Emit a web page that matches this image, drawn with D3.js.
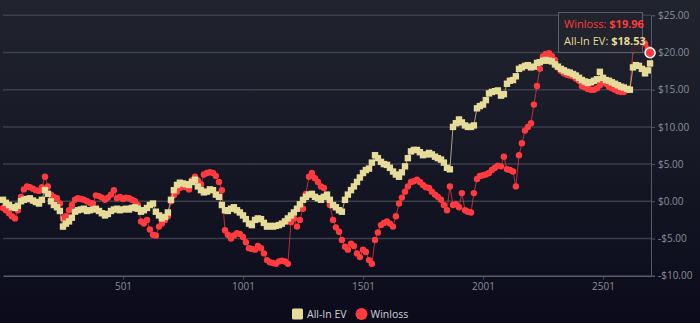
<!DOCTYPE html>
<html>
<head>
<meta charset="utf-8">
<script src="https://cdn.jsdelivr.net/npm/d3@7"></script>
<style>
  html, body { margin: 0; padding: 0; background: #0c0c1c; }
  svg { display: block; }
  text { font-family: "Open Sans", "Noto Sans", sans-serif; }
</style>
</head>
<body>
<svg id="chart" width="700" height="323"></svg>
<script>
// Hand numbers sampled along the session
const hands = [
  1, 13, 26, 38, 51, 63, 76, 88, 101, 113,
  126, 138, 151, 163, 176, 188, 201, 213, 226, 238,
  251, 263, 276, 288, 301, 313, 326, 338, 351, 363,
  376, 388, 401, 413, 426, 438, 451, 463, 476, 488,
  501, 513, 526, 538, 551, 563, 576, 588, 601, 613,
  626, 638, 651, 663, 676, 688, 701, 713, 726, 738,
  751, 763, 776, 788, 801, 813, 826, 838, 851, 863,
  876, 888, 901, 913, 926, 938, 951, 963, 976, 988,
  1001, 1013, 1026, 1038, 1051, 1063, 1076, 1088, 1101, 1113,
  1126, 1138, 1151, 1163, 1176, 1188, 1201, 1213, 1226, 1238,
  1251, 1263, 1276, 1288, 1301, 1313, 1326, 1338, 1351, 1363,
  1376, 1388, 1401, 1413, 1426, 1438, 1451, 1463, 1476, 1488,
  1501, 1513, 1526, 1538, 1551, 1563, 1576, 1588, 1601, 1613,
  1626, 1638, 1651, 1663, 1676, 1688, 1701, 1713, 1726, 1738,
  1751, 1763, 1776, 1788, 1801, 1813, 1826, 1838, 1851, 1863,
  1876, 1888, 1901, 1913, 1926, 1938, 1951, 1963, 1976, 1988,
  2001, 2013, 2026, 2038, 2051, 2063, 2076, 2088, 2101, 2113,
  2126, 2138, 2151, 2163, 2176, 2188, 2201, 2213, 2226, 2238,
  2251, 2263, 2276, 2288, 2301, 2313, 2326, 2338, 2351, 2363,
  2376, 2388, 2401, 2413, 2426, 2438, 2451, 2463, 2476, 2488,
  2501, 2513, 2526, 2538, 2551, 2563, 2576, 2588, 2601, 2613,
  2626, 2638, 2651, 2663, 2676, 2688, 2697
];

// Cumulative all-in expected value ($)
const allInEV = [
  0.2, -0.2, -0.5, -0.8, -0.9, -0.6, 0.0, 0.2, 0.3, 0.4, 0.1, -0.1, -0.3, 0.2, 1.5, 1.0, 0.0, -0.5, -0.8, -1.3,
  -3.4, -3.0, -2.7, -2.2, -1.4, -1.2, -1.1, -1.0, -1.3, -1.2, -1.1, -1.0, -1.3, -1.6, -1.9, -1.7, -1.3, -1.1, -1.0, -1.2,
  -1.1, -1.0, -1.1, -0.9, -0.8, -1.0, -1.4, -1.2, -0.9, -0.5, -0.3, -1.4, -1.9, -2.3, -2.1, -1.5, 0.2, 1.5, 2.2, 2.5,
  2.4, 2.3, 2.2, 2.6, 2.9, 2.0, 1.5, 1.2, 1.3, 1.6, 1.5, 0.9, 0.6, -0.5, -1.2, -1.3, -1.0, -0.8, -1.2, -1.5,
  -1.9, -2.4, -3.0, -3.2, -2.5, -2.3, -2.4, -2.9, -3.4, -3.3, -3.4, -3.3, -3.2, -3.0, -2.7, -2.3, -1.9, -1.5, -1.0, -0.4,
  0.2, 0.6, 0.9, 1.0, 0.6, 0.4, 0.2, 0.6, 0.9, 0.2, -0.5, -0.8, -1.2, -1.4, 0.2, 0.9, 1.5, 2.0, 2.6, 3.2,
  3.8, 4.2, 4.4, 5.2, 6.2, 5.8, 5.3, 5.0, 4.9, 4.5, 4.0, 3.6, 3.3, 3.9, 4.7, 5.8, 6.7, 6.9, 6.9, 6.6,
  6.2, 6.3, 6.5, 6.3, 6.0, 5.8, 5.6, 5.2, 4.5, 4.3, 10.0, 10.5, 11.0, 10.6, 10.2, 10.0, 10.0, 10.2, 12.5, 12.8,
  13.0, 13.6, 14.5, 14.7, 14.8, 14.9, 14.2, 14.4, 15.8, 16.2, 16.3, 16.8, 17.8, 18.0, 18.2, 18.3, 18.0, 18.1, 18.6, 18.7,
  18.9, 19.0, 18.9, 18.8, 18.4, 18.1, 17.8, 17.6, 17.4, 17.3, 17.1, 16.9, 16.6, 16.3, 16.1, 15.9, 16.0, 16.2, 16.4, 17.4,
  16.6, 16.3, 16.2, 16.0, 15.8, 15.6, 15.4, 15.3, 15.1, 15.0, 18.0, 18.3, 18.2, 17.8, 17.2, 17.6,
  18.53
];

// Cumulative actual winnings ($)
const winloss = [
  -0.9, -1.2, -1.6, -2.0, -2.3, -1.2, 0.6, 1.6, 2.0, 1.9, 1.7, 1.5, 1.4, 1.9, 3.3, 2.0, 0.9, 0.6, 0.4, -0.3,
  -2.3, -2.0, -1.2, -0.5, 0.2, 0.4, 0.3, 0.2, 0.0, -0.2, -0.3, 0.8, 0.7, 0.5, 0.2, 0.5, 0.9, 1.5, 0.4, 0.6,
  0.3, 0.5, 0.4, 0.2, 0.0, -0.5, -2.7, -3.0, -2.5, -3.8, -4.5, -4.6, -3.4, -3.0, -2.5, -2.0, 0.0, 0.8, 1.3, 1.8,
  2.0, 1.9, 1.6, 2.8, 3.3, 2.8, 2.3, 3.6, 3.8, 3.9, 3.8, 3.4, 2.6, 1.5, -3.9, -4.5, -5.0, -4.6, -4.3, -4.4,
  -4.8, -5.5, -6.3, -6.4, -6.5, -6.0, -6.3, -7.0, -7.9, -8.2, -8.3, -8.4, -8.1, -8.0, -8.1, -8.4, -2.8, -2.3, -3.4, -2.5,
  -1.0, 1.0, 3.3, 3.8, 3.1, 2.6, 2.0, 1.8, 0.5, -0.5, -2.5, -3.5, -4.1, -5.2, -6.1, -6.5, -5.7, -6.0, -7.0, -7.5,
  -6.5, -6.8, -7.9, -8.4, -5.2, -4.2, -3.2, -2.9, -2.7, -3.0, -3.4, -2.0, -0.3, 0.5, 1.3, 2.0, 2.6, 2.7, 2.9, 2.6,
  2.2, 1.9, 1.8, 1.3, 0.9, 0.6, 0.2, -0.5, -1.2, 2.0, -0.5, -0.4, -0.8, 1.1, -1.2, -1.4, -1.5, 1.1, 3.0, 3.4,
  3.5, 3.6, 3.8, 4.2, 4.5, 4.8, 4.7, 6.0, 4.3, 4.2, 4.0, 2.0, 6.2, 7.8, 9.5, 10.0, 10.5, 13.0, 15.5, 17.8,
  19.5, 19.8, 19.9, 19.5, 19.0, 18.0, 17.5, 17.2, 17.0, 16.9, 16.8, 16.5, 16.2, 15.5, 15.3, 15.1, 15.0, 15.0, 15.2, 15.6,
  16.2, 15.8, 15.4, 15.2, 15.0, 14.8, 14.7, 14.7, 15.0, 15.0, 20.3, 20.6, 20.8, 21.4, 21.2, 20.5,
  19.96
];

const xTicks = [501, 1001, 1501, 2001, 2501];
const yTicks = [-10, -5, 0, 5, 10, 15, 20, 25];

const seriesNames = ["All-In EV", "Winloss"];
const seriesColors = { "All-In EV": "#e6db98", "Winloss": "#ff3b3f" };

const W = 700, H = 323;
const plot = { left: 3, right: 651, top: 15.3, bottom: 275.7 };

const svg = d3.select("#chart");

// background gradient
const defs = svg.append("defs");
const grad = defs.append("linearGradient")
  .attr("id", "bg").attr("x1", 0).attr("y1", 0).attr("x2", 0).attr("y2", 1);
grad.append("stop").attr("offset", "0%").attr("stop-color", "#21242f");
grad.append("stop").attr("offset", "100%").attr("stop-color", "#0b0b1b");
svg.append("rect").attr("width", W).attr("height", H).attr("fill", "url(#bg)");

const x = d3.scaleLinear().domain([1, 2701]).range([plot.left, plot.right]);
const y = d3.scaleLinear().domain([-10, 25]).range([plot.bottom, plot.top]);

// horizontal grid
svg.append("g")
  .selectAll("line")
  .data(yTicks.filter(t => t !== -10))
  .join("line")
  .attr("x1", plot.left).attr("x2", plot.right)
  .attr("y1", d => y(d)).attr("y2", d => y(d))
  .attr("stroke", "#3b3e4b").attr("stroke-width", 1.5);

// right value axis
const yAxis = d3.axisRight(y)
  .tickValues(yTicks)
  .tickSize(4)
  .tickPadding(3)
  .tickFormat(d => (d < 0 ? "-$" : "$") + Math.abs(d).toFixed(2));
const gy = svg.append("g")
  .attr("transform", `translate(${plot.right},0)`)
  .call(yAxis);
gy.select(".domain").attr("stroke", "#555866").attr("stroke-width", 1);
gy.selectAll(".tick line").attr("stroke", "#555866");
gy.selectAll(".tick text")
  .attr("fill", "#8b8e9a")
  .attr("font-size", "10px")
  .style("font-family", '"Open Sans", sans-serif');

// bottom hand axis
const xAxis = d3.axisBottom(x)
  .tickValues(xTicks)
  .tickSize(4)
  .tickPadding(3)
  .tickSizeOuter(0)
  .tickFormat(d3.format("d"));
const gx = svg.append("g")
  .attr("transform", `translate(0,${plot.bottom})`)
  .call(xAxis);
gx.select(".domain").attr("stroke", "#5c5f6c").attr("stroke-width", 1.5);
gx.selectAll(".tick line").attr("stroke", "#4a4d5a");
gx.selectAll(".tick text")
  .attr("fill", "#8b8e9a")
  .attr("font-size", "10px")
  .style("font-family", '"Open Sans", sans-serif');

const lineGen = d3.line().x(d => x(d.h)).y(d => y(d.v));
const toPoints = vals => hands.map((h, i) => ({ h, v: vals[i] }));

// Winloss: thin line plus round markers
const wl = toPoints(winloss);
svg.append("path")
  .datum(wl)
  .attr("d", lineGen)
  .attr("fill", "none")
  .attr("stroke", seriesColors["Winloss"])
  .attr("stroke-opacity", 0.7)
  .attr("stroke-width", 1);
svg.append("g")
  .selectAll("circle")
  .data(wl)
  .join("circle")
  .attr("cx", d => x(d.h))
  .attr("cy", d => y(d.v))
  .attr("r", 3.2)
  .attr("fill", seriesColors["Winloss"]);

// All-In EV: thin line plus square markers
const ev = toPoints(allInEV);
svg.append("path")
  .datum(ev)
  .attr("d", lineGen)
  .attr("fill", "none")
  .attr("stroke", seriesColors["All-In EV"])
  .attr("stroke-opacity", 0.7)
  .attr("stroke-width", 1);
svg.append("g")
  .selectAll("rect")
  .data(ev)
  .join("rect")
  .attr("x", d => x(d.h) - 3.2)
  .attr("y", d => y(d.v) - 3.2)
  .attr("width", 6.4)
  .attr("height", 6.4)
  .attr("fill", seriesColors["All-In EV"]);

// highlighted last point
const last = hands.length - 1;
svg.append("circle")
  .attr("cx", x(hands[last]))
  .attr("cy", y(winloss[last]))
  .attr("r", 5)
  .attr("fill", seriesColors["Winloss"])
  .attr("stroke", "#ffffff")
  .attr("stroke-width", 1.5);

// tooltip for the last point
const tip = svg.append("g").attr("transform", "translate(558,12)");
tip.append("rect")
  .attr("x", 0.5).attr("y", 0.5)
  .attr("width", 84).attr("height", 40)
  .attr("fill", "#22242e").attr("fill-opacity", 0.92)
  .attr("stroke", "#5e6069").attr("stroke-width", 1);
const t1 = tip.append("text").attr("x", 6).attr("y", 16)
  .attr("font-size", "11px").attr("fill", seriesColors["Winloss"]);
t1.append("tspan").text("Winloss: ");
t1.append("tspan").attr("font-weight", "bold").text("$" + winloss[last].toFixed(2));
const t2 = tip.append("text").attr("x", 6).attr("y", 33)
  .attr("font-size", "11px").attr("fill", seriesColors["All-In EV"]);
t2.append("tspan").text("All-In EV: ");
t2.append("tspan").attr("font-weight", "bold").text("$" + allInEV[last].toFixed(2));

// legend
const legend = svg.append("g").attr("transform", "translate(0,314)");
legend.append("rect")
  .attr("x", 292).attr("y", -5.5).attr("width", 11).attr("height", 11)
  .attr("rx", 1.5)
  .attr("fill", seriesColors["All-In EV"]);
legend.append("text")
  .attr("x", 307).attr("y", 4)
  .attr("font-size", "10.5px").attr("fill", "#d0d0d6")
  .text(seriesNames[0]);
legend.append("circle")
  .attr("cx", 361.5).attr("cy", 0).attr("r", 6)
  .attr("fill", seriesColors["Winloss"]);
legend.append("text")
  .attr("x", 370.5).attr("y", 4)
  .attr("font-size", "10.5px").attr("fill", "#d0d0d6")
  .text(seriesNames[1]);
</script>
</body>
</html>
